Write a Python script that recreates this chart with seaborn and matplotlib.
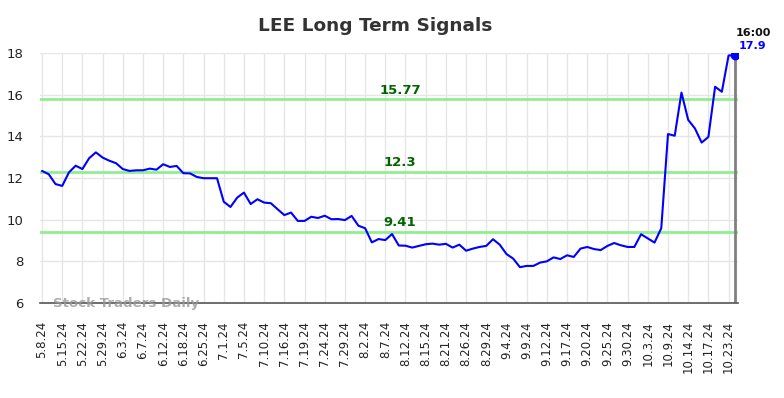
import matplotlib
matplotlib.use("Agg")
import matplotlib.pyplot as plt
import seaborn as sns
import pandas as pd
import numpy as np

tick_labels = ["5.8.24", "5.15.24", "5.22.24", "5.29.24", "6.3.24", "6.7.24", "6.12.24",
               "6.18.24", "6.25.24", "7.1.24", "7.5.24", "7.10.24", "7.16.24", "7.19.24",
               "7.24.24", "7.29.24", "8.2.24", "8.7.24", "8.12.24", "8.15.24", "8.21.24",
               "8.26.24", "8.29.24", "9.4.24", "9.9.24", "9.12.24", "9.17.24", "9.20.24",
               "9.25.24", "9.30.24", "10.3.24", "10.9.24", "10.14.24", "10.17.24", "10.23.24"]

prices = [12.34, 12.18, 11.71, 11.62, 12.27, 12.59, 12.43, 12.95, 13.23, 12.98,
          12.83, 12.71, 12.43, 12.34, 12.37, 12.37, 12.45, 12.40, 12.66, 12.53,
          12.58, 12.23, 12.22, 12.05, 11.99, 11.99, 11.99, 10.86, 10.61, 11.06,
          11.30, 10.75, 10.98, 10.82, 10.79, 10.50, 10.22, 10.34, 9.94, 9.94,
          10.14, 10.08, 10.19, 10.02, 10.03, 9.98, 10.18, 9.71, 9.59, 8.91,
          9.07, 9.02, 9.31, 8.76, 8.75, 8.66, 8.74, 8.82, 8.85, 8.80,
          8.84, 8.66, 8.80, 8.51, 8.61, 8.69, 8.74, 9.06, 8.80, 8.35,
          8.13, 7.72, 7.78, 7.78, 7.94, 8.00, 8.19, 8.11, 8.29, 8.21,
          8.61, 8.69, 8.59, 8.54, 8.74, 8.88, 8.77, 8.69, 8.69, 9.30,
          9.10, 8.90, 9.59, 14.11, 14.03, 16.10, 14.79, 14.38, 13.70, 13.97,
          16.38, 16.14, 17.88, 17.90]

levels = [15.77, 12.3, 9.41]
level_labels = ["15.77", "12.3", "9.41"]
last_time = "16:00"
last_label = "17.9"
ticker = "LEE"

df = pd.DataFrame({"idx": np.arange(len(prices)), "price": prices})

sns.set_style("white")
plt.rcParams['font.family'] = ['DejaVu Sans']

fig = plt.figure(figsize=(7.84, 3.98), dpi=100)
ax = fig.add_axes([40 / 784, 95 / 398, 698 / 784, 250 / 398])

n = len(prices)
tick_pos = np.arange(0, n, 3)[:len(tick_labels)]

# grid
for tp in tick_pos:
    ax.axvline(tp, color="#e6e6e6", lw=1, zorder=0)
for yv in range(6, 19, 2):
    ax.axhline(yv, color="#e6e6e6", lw=1, zorder=0)

for lv, lab in zip(levels, level_labels):
    ax.axhline(lv, color="#90ee90", lw=2, zorder=1)
    ax.text(53.2, lv + 0.12, lab, color="#006400", fontsize=9.5, fontweight="bold",
            ha="center", va="bottom", zorder=5)

sns.lineplot(data=df, x="idx", y="price", color="#0000ff", lw=1.5, ax=ax, zorder=3)

last_i = n - 1
ax.plot([last_i, last_i], [6, prices[-1]], color="#808080", lw=2, zorder=2)
ax.scatter([last_i], [prices[-1]], color="#0000ff", s=36, zorder=4)

ax.set_xlim(-0.3, last_i + 0.4)
ax.set_ylim(6, 18)
ax.set_xticks(tick_pos)
ax.set_xticklabels(tick_labels, rotation=90, fontsize=8.5, color="#222222")
ax.set_yticks(range(6, 19, 2))
ax.set_yticklabels([str(v) for v in range(6, 19, 2)], fontsize=9.5, color="#222222")
ax.tick_params(axis="x", length=0, pad=13)
ax.tick_params(axis="y", length=0, pad=12)
ax.set_xlabel("")
ax.set_ylabel("")
for s in ["top", "right", "left"]:
    ax.spines[s].set_visible(False)
ax.spines["bottom"].set_color("#555555")
ax.spines["bottom"].set_linewidth(1.2)

ax.text(1.7, 6.0, "Stock Traders Daily", fontsize=9.6, fontweight="bold", color="#999999",
        alpha=0.8, ha="left", va="center", zorder=6)

fig.text(753 / 784, 1 - 33 / 398, last_time, fontsize=8, fontweight="bold", color="#111111",
         ha="center", va="center")
fig.text(752 / 784, 1 - 46 / 398, last_label, fontsize=8, fontweight="bold", color="#0000ff",
         ha="center", va="center")

fig.text(375 / 784, 1 - 26 / 398, f"{ticker} Long Term Signals", fontsize=13.3, fontweight="bold",
         color="#333333", ha="center", va="center")

fig.savefig("out.png", dpi=100)
